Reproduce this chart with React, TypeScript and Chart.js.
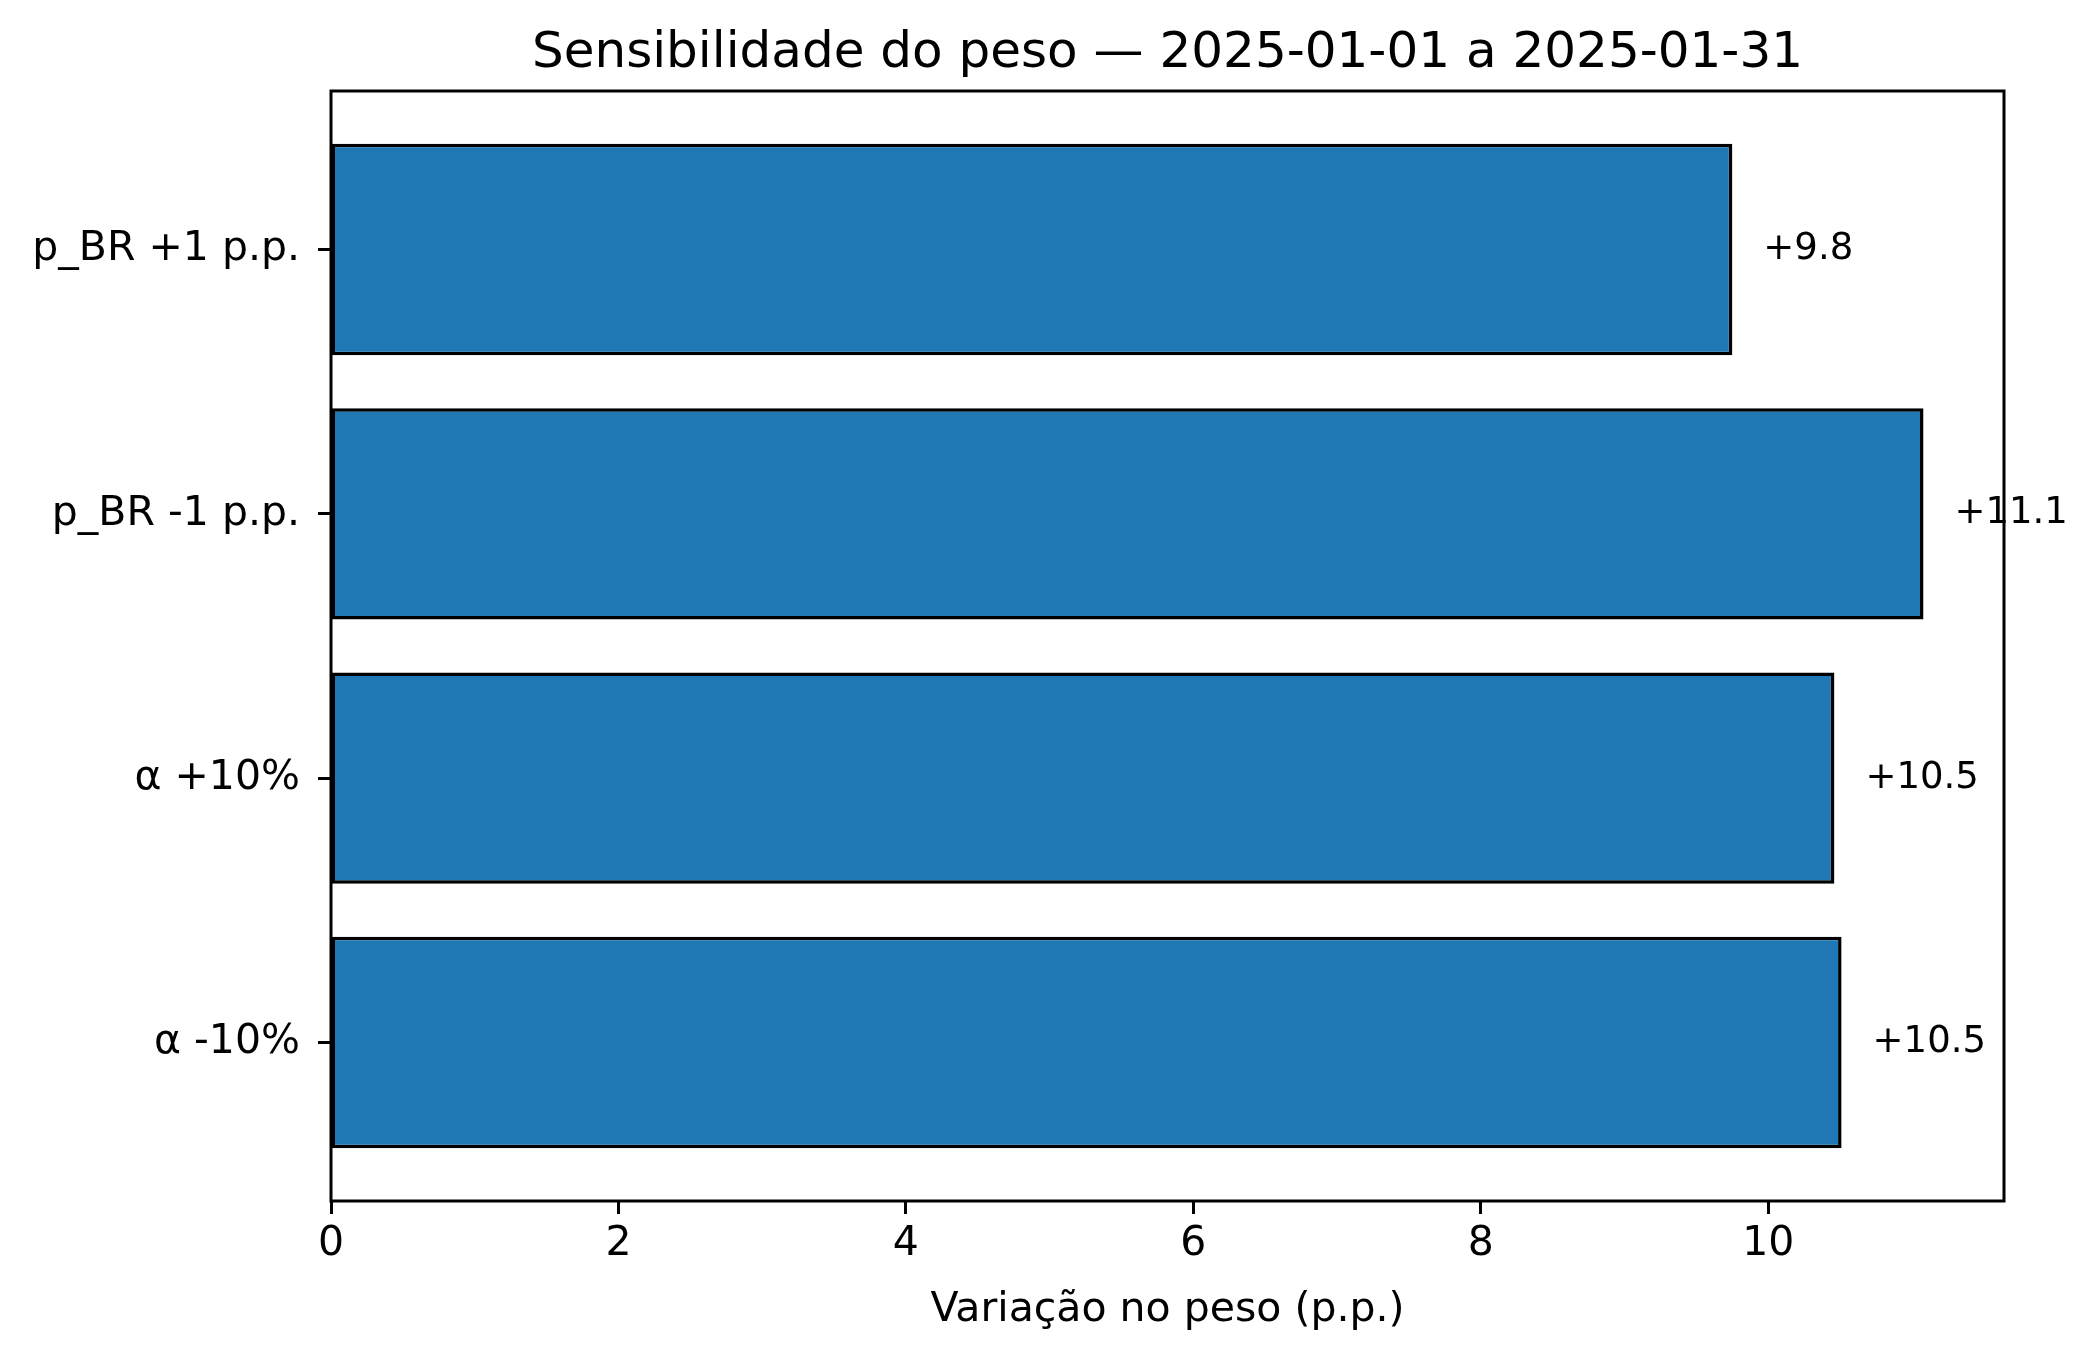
import { useEffect, useRef } from "react"
import { Chart, registerables } from "chart.js"

Chart.register(...registerables)

const categories = ["p_BR +1 p.p.", "p_BR -1 p.p.", "α +10%", "α -10%"]
const values = [9.75, 11.08, 10.46, 10.51]
const valueLabels = ["+9.8", "+11.1", "+10.5", "+10.5"]
const xTicks = [0, 2, 4, 6, 8, 10]

const FONT = "DejaVu Sans"

const overlay = {
  id: "overlay",
  afterDraw(chart: Chart) {
    const { ctx, chartArea } = chart
    ctx.save()
    ctx.strokeStyle = "#000"
    ctx.lineWidth = 3
    ctx.strokeRect(chartArea.left, chartArea.top, chartArea.right - chartArea.left, chartArea.bottom - chartArea.top)
    ctx.fillStyle = "#000"
    ctx.font = `37px "${FONT}"`
    ctx.textBaseline = "middle"
    ctx.textAlign = "left"
    chart.getDatasetMeta(0).data.forEach((bar: any, i) => {
      ctx.fillText(valueLabels[i], bar.x + 31, bar.y)
    })
    ctx.textAlign = "center"
    ctx.font = `41px "${FONT}"`
    ctx.fillText("Variação no peso (p.p.)", (chartArea.left + chartArea.right) / 2, 1310)
    ctx.font = `50px "${FONT}"`
    ctx.fillText("Sensibilidade do peso — 2025-01-01 a 2025-01-31", (chartArea.left + chartArea.right) / 2, 54)
    ctx.restore()
  },
}

export default function App() {
  const chartRef = useRef<HTMLCanvasElement>(null)
  const chartInstance = useRef<Chart | null>(null)

  useEffect(() => {
    if (!chartRef.current) return
    if (chartInstance.current) chartInstance.current.destroy()
    const ctx = chartRef.current.getContext("2d")
    if (!ctx) return

    chartInstance.current = new Chart(ctx, {
      type: "bar",
      data: {
        datasets: [
          {
            data: values.map((v, i) => ({ x: v, y: i })),
            backgroundColor: "#1f77b4",
            borderColor: "#000",
            borderWidth: 3.5,
            borderSkipped: false,
            barPercentage: 0.8,
            categoryPercentage: 1,
          },
        ],
      },
      options: {
        indexAxis: "y",
        responsive: false,
        devicePixelRatio: 1,
        animation: false,
        layout: { padding: { top: 91, right: 95, left: 0, bottom: 0 } },
        plugins: { legend: { display: false }, tooltip: { enabled: false } },
        scales: {
          x: {
            type: "linear",
            min: 0,
            max: 11.64,
            afterBuildTicks: (axis: any) => {
              axis.ticks = xTicks.map((v) => ({ value: v }))
            },
            afterFit: (axis: any) => {
              axis.height = 161
            },
            ticks: { color: "#000", font: { family: FONT, size: 41 }, padding: 6, maxRotation: 0 },
            grid: { drawOnChartArea: false, tickLength: 13, tickColor: "#000", tickWidth: 3 },
            border: { display: false },
          },
          y: {
            type: "linear",
            offset: false,
            min: -0.6,
            max: 3.6,
            reverse: true,
            afterBuildTicks: (axis: any) => {
              axis.ticks = categories.map((_, i) => ({ value: i }))
            },
            afterFit: (axis: any) => {
              axis.width = 331
            },
            ticks: {
              color: "#000",
              font: { family: FONT, size: 41 },
              padding: 18,
              callback: (v: any) => categories[v] ?? "",
            },
            grid: { drawOnChartArea: false, offset: false, tickLength: 13, tickColor: "#000", tickWidth: 3 },
            border: { display: false },
          },
        },
      },
      plugins: [overlay],
    })

    return () => {
      if (chartInstance.current) chartInstance.current.destroy()
    }
  }, [])

  return (
    <div style={{ position: "fixed", left: 0, top: 0, width: 2099, height: 1362, background: "#fff" }}>
      <canvas ref={chartRef} width={2099} height={1362} style={{ width: 2099, height: 1362 }} />
    </div>
  )
}
